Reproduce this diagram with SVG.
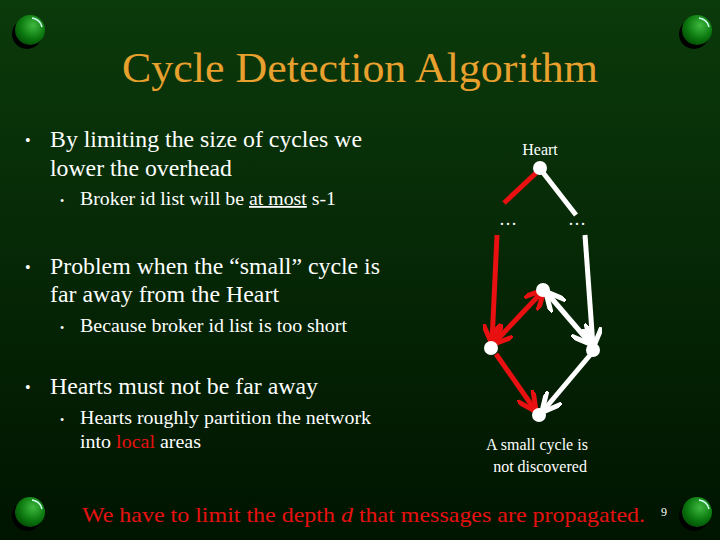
<svg xmlns="http://www.w3.org/2000/svg" width="720" height="540" viewBox="0 0 720 540">
<defs>
<linearGradient id="bg" x1="0" y1="0" x2="0" y2="1"><stop offset="0" stop-color="#0b3a0b"/><stop offset="1" stop-color="#001400"/></linearGradient>
<radialGradient id="ball" cx="0.6" cy="0.35" r="0.7"><stop offset="0" stop-color="#3fb83f"/><stop offset="0.6" stop-color="#0c7a10"/><stop offset="1" stop-color="#034d05"/></radialGradient>
<marker id="ar" viewBox="0 0 10 10" refX="9" refY="5" markerWidth="4" markerHeight="4" orient="auto-start-reverse"><path d="M0,0 L10,5 L0,10" fill="none" stroke="#e81010" stroke-width="2.5"/></marker>
<marker id="aw" viewBox="0 0 10 10" refX="9" refY="5" markerWidth="4" markerHeight="4" orient="auto-start-reverse"><path d="M0,0 L10,5 L0,10" fill="none" stroke="#ffffff" stroke-width="2.5"/></marker>
<g id="orb"><circle cx="-3" cy="4" r="15" fill="#000"/><circle cx="0" cy="0" r="15" fill="url(#ball)"/><path d="M2,-12 A12,12 0 0 1 12,-3" stroke="#cfe" stroke-width="1.5" fill="none"/></g>
</defs>
<style>
text{font-family:"Liberation Serif","Times New Roman","DejaVu Serif",serif}
.t{fill:#fff}
.r{stroke:#e81010;stroke-width:5;fill:none}
.w{stroke:#fff;stroke-width:5;fill:none}
.n{fill:#fff}
</style>
<rect width="720" height="540" fill="url(#bg)"/>
<use href="#orb" x="30" y="30"/><use href="#orb" x="697" y="30"/><use href="#orb" x="30" y="512"/><use href="#orb" x="697" y="512"/>
<text x="122" y="82" font-size="42" fill="#e8a02e" textLength="476" lengthAdjust="spacingAndGlyphs">Cycle Detection Algorithm</text>
<g class="t" font-size="23">
<text x="25" y="146" font-size="16">•</text>
<text x="50" y="147" textLength="312" lengthAdjust="spacingAndGlyphs">By limiting the size of cycles we</text>
<text x="50" y="176" textLength="182" lengthAdjust="spacingAndGlyphs">lower the overhead</text>
<text x="25" y="273" font-size="16">•</text>
<text x="50" y="274" textLength="330" lengthAdjust="spacingAndGlyphs">Problem when the “small” cycle is</text>
<text x="50" y="302" textLength="229" lengthAdjust="spacingAndGlyphs">far away from the Heart</text>
<text x="25" y="393" font-size="16">•</text>
<text x="50" y="394" textLength="268" lengthAdjust="spacingAndGlyphs">Hearts must not be far away</text>
</g>
<g class="t" font-size="18">
<text x="60" y="205" font-size="12">•</text>
<text x="80" y="205" textLength="256" lengthAdjust="spacingAndGlyphs">Broker id list will be <tspan text-decoration="underline">at most</tspan> s-1</text>
<text x="60" y="332" font-size="12">•</text>
<text x="80" y="332" textLength="267" lengthAdjust="spacingAndGlyphs">Because broker id list is too short</text>
<text x="60" y="424" font-size="12">•</text>
<text x="80" y="424" textLength="291" lengthAdjust="spacingAndGlyphs">Hearts roughly partition the network</text>
<text x="80" y="448" textLength="121" lengthAdjust="spacingAndGlyphs">into <tspan fill="#e81010">local</tspan> areas</text>
<text x="540" y="155" text-anchor="middle" font-size="16">Heart</text>
<text x="508" y="225" text-anchor="middle">…</text>
<text x="577" y="225" text-anchor="middle">…</text>
<text x="537" y="450" text-anchor="middle" font-size="16">A small cycle is</text>
<text x="540" y="472" text-anchor="middle" font-size="16">not discovered</text>
</g>
<text x="82" y="522" font-size="22" fill="#e81010" textLength="563" lengthAdjust="spacingAndGlyphs">We have to limit the depth <tspan font-style="italic">d</tspan> that messages are propagated.</text>
<text x="661" y="516" font-size="12" fill="#fff">9</text>
<g id="connectors">
<line class="r" x1="537" y1="172" x2="504" y2="203"/>
<line class="w" x1="541" y1="170" x2="576" y2="215"/>
<line class="r" x1="497" y1="235" x2="492" y2="342" marker-end="url(#ar)"/>
<line class="r" x1="494" y1="343" x2="543" y2="291" marker-start="url(#ar)" marker-end="url(#ar)"/>
<line class="w" x1="585" y1="235" x2="593" y2="346" marker-end="url(#aw)"/>
<line class="w" x1="590" y1="343" x2="547" y2="293" marker-start="url(#aw)" marker-end="url(#aw)"/>
<line class="r" x1="496" y1="354" x2="535" y2="410" marker-end="url(#ar)"/>
<line class="w" x1="591" y1="354" x2="543" y2="411" marker-end="url(#aw)"/>
</g>
<g id="heart"><circle class="n" cx="540" cy="168" r="7"/></g>
<g id="left"><circle class="n" cx="491" cy="348" r="7"/></g>
<g id="top"><circle class="n" cx="543" cy="290" r="7"/></g>
<g id="right"><circle class="n" cx="593" cy="350" r="7"/></g>
<g id="bottom"><circle class="n" cx="539" cy="415" r="7"/></g>
</svg>
